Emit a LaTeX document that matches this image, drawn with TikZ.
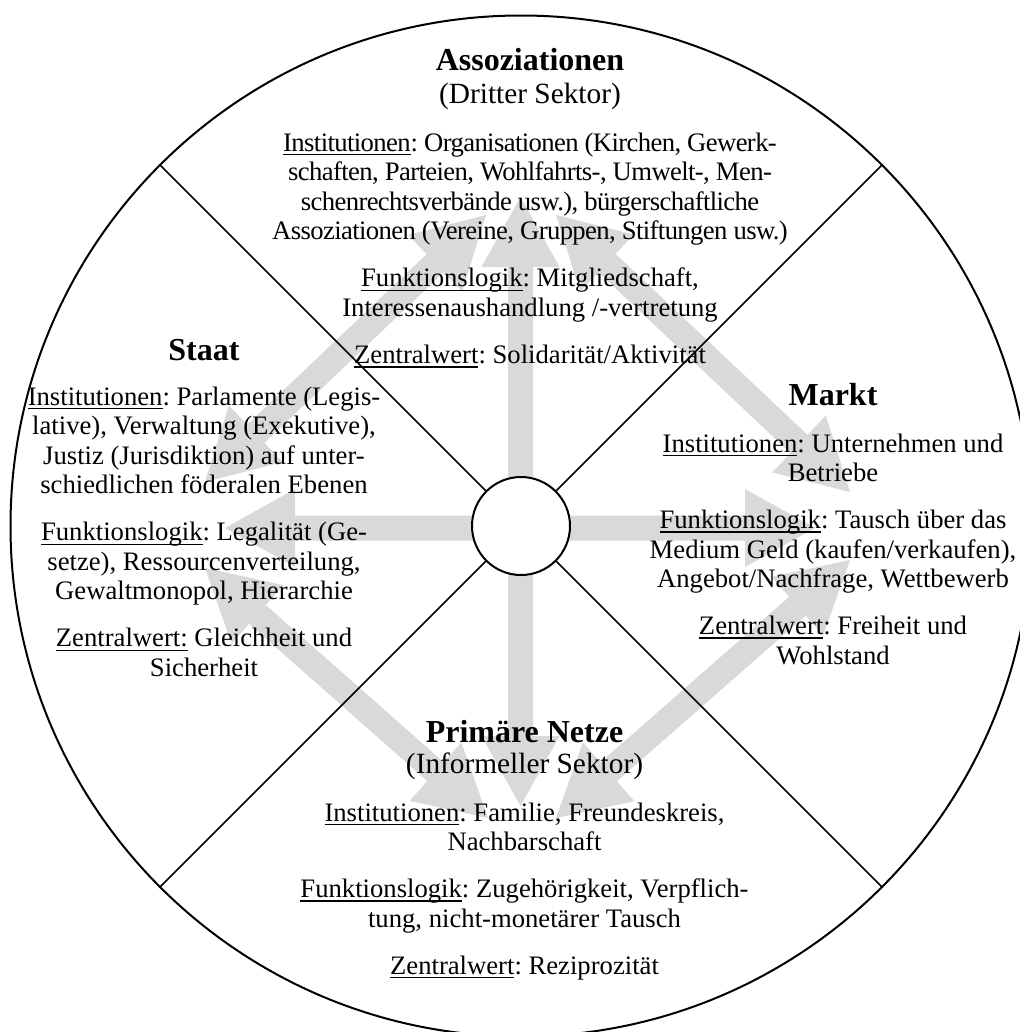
\documentclass[tikz,border=0pt]{standalone}
\usepackage{fontspec}
\setmainfont{Liberation Serif}
\usetikzlibrary{calc}

\definecolor{arrowgrey}{RGB}{217,217,217}

% block arrow with a head at both ends
\newcommand{\headlen}{52.5pt}
\newcommand{\headhalf}{29.25pt}
\newcommand{\shafthalf}{9.375pt}
\newcommand{\twowayarrow}[3]{%
  \coordinate (#1-hs) at ($(#2)!\headlen!(#3)$);
  \coordinate (#1-he) at ($(#3)!\headlen!(#2)$);
  \fill[arrowgrey] (#2)
    -- ($(#1-hs)!\headhalf!90:(#3)$)
    -- ($(#1-hs)!\shafthalf!90:(#3)$)
    -- ($(#1-he)!\shafthalf!-90:(#2)$)
    -- ($(#1-he)!\headhalf!-90:(#2)$)
    -- (#3)
    -- ($(#1-he)!\headhalf!90:(#2)$)
    -- ($(#1-he)!\shafthalf!90:(#2)$)
    -- ($(#1-hs)!\shafthalf!-90:(#3)$)
    -- ($(#1-hs)!\headhalf!-90:(#3)$)
    -- cycle;
}

% underlined term, rule at a fixed depth below the baseline
\newcommand{\uterm}[1]{\setbox0=\hbox{#1}\rlap{\rule[-3.3pt]{\wd0}{1.2pt}}\box0\relax}
% centred lines; the first baseline is the box baseline
\newcommand{\textlines}[1]{\vtop{\halign{\hfil##\hfil\cr#1\crcr}}}
\newcommand{\pargap}{\cr\noalign{\vskip13pt}}
% slightly condensed letters for the long paragraph at the top
\newcommand{\condensed}{\addfontfeature{LetterSpace=-2.3}}

\tikzset{
  titletext/.style={font=\fontsize{24pt}{28pt}\selectfont\bfseries, inner sep=0pt, anchor=base},
  subtext/.style={font=\fontsize{22pt}{26pt}\selectfont, inner sep=0pt, anchor=base},
  bodytext/.style={font=\fontsize{20pt}{22.2pt}\selectfont\frenchspacing, inner sep=0pt, anchor=base},
  ring/.style={circle, draw, line width=1.5pt, inner sep=0pt},
  divider/.style={line width=1.1pt},
}

\begin{document}
\begin{tikzpicture}[x=0.75pt, y=-0.75pt]
\useasboundingbox (0,0) rectangle (1020,1032);
\fill[white] (0,0) rectangle (1020,1032);

% arrow end points
\coordinate (vt) at (520.5,197);
\coordinate (vb) at (520.5,806);
\coordinate (hl) at (225,528);
\coordinate (hr) at (815,528);
\coordinate (ula) at (205,482);
\coordinate (ulb) at (486,215);
\coordinate (ura) at (556,215);
\coordinate (urb) at (850,492);
\coordinate (lra) at (850,560);
\coordinate (lrb) at (556,818);
\coordinate (lla) at (488,818);
\coordinate (llb) at (205,568);

\twowayarrow{av}{vt}{vb}
\twowayarrow{ah}{hl}{hr}
\twowayarrow{aul}{ula}{ulb}
\twowayarrow{aur}{ura}{urb}
\twowayarrow{alr}{lra}{lrb}
\twowayarrow{all}{lla}{llb}

% wheel
\node[ring, minimum size=765.75pt] (outer) at (521,526) {};
\node[ring, fill=white, minimum size=73.5pt] (hub) at (521,526) {};
\foreach \a in {45,135,225,315}
  \draw[divider] (hub.\a) -- (outer.\a);

% Assoziationen
\node[titletext] (assoc) at (530,70.5) {Assoziationen};
\node[subtext] (assocsub) at (530,103) {(Dritter Sektor)};
\node[bodytext] (assoctext) at (530,151) {\textlines{%
\condensed\uterm{Institutionen}: Organisationen (Kirchen, Gewerk-\cr
\condensed schaften, Parteien, Wohlfahrts-, Umwelt-, Men-\cr
\condensed schenrechtsverbände usw.), bürgerschaftliche\cr
\condensed Assoziationen (Vereine, Gruppen, Stiftungen usw.)\pargap
\uterm{Funktionslogik}: Mitgliedschaft,\cr
Interessenaushandlung /-vertretung\pargap
\uterm{Zentralwert}: Solidarität/Aktivität}};

% Staat
\node[titletext] (staat) at (204,360) {Staat};
\node[bodytext] (staattext) at (204,405) {\textlines{%
\uterm{Institutionen}: Parlamente (Legis-\cr
lative), Verwaltung (Exekutive),\cr
Justiz (Jurisdiktion) auf unter-\cr
schiedlichen föderalen Ebenen\pargap
\uterm{Funktionslogik}: Legalität (Ge-\cr
setze), Ressourcenverteilung,\cr
Gewaltmonopol, Hierarchie\pargap
\uterm{Zentralwert:} Gleichheit und\cr
Sicherheit}};

% Markt
\node[titletext] (markt) at (833,405) {Markt};
\node[bodytext] (markttext) at (833,452) {\textlines{%
\uterm{Institutionen}: Unternehmen und\cr
Betriebe\pargap
\uterm{Funktionslogik}: Tausch über das\cr
Medium Geld (kaufen/verkaufen),\cr
Angebot/Nachfrage, Wettbewerb\pargap
\uterm{Zentralwert}: Freiheit und\cr
Wohlstand}};

% Primäre Netze
\node[titletext] (netze) at (524.5,742) {Primäre Netze};
\node[subtext] (netzesub) at (524.5,773) {(Informeller Sektor)};
\node[bodytext] (netzetext) at (524.5,821) {\textlines{%
\uterm{Institutionen}: Familie, Freundeskreis,\cr
Nachbarschaft\pargap
\uterm{Funktionslogik}: Zugehörigkeit, Verpflich-\cr
tung, nicht-monetärer Tausch\pargap
\uterm{Zentralwert}: Reziprozität}};
\end{tikzpicture}
\end{document}
